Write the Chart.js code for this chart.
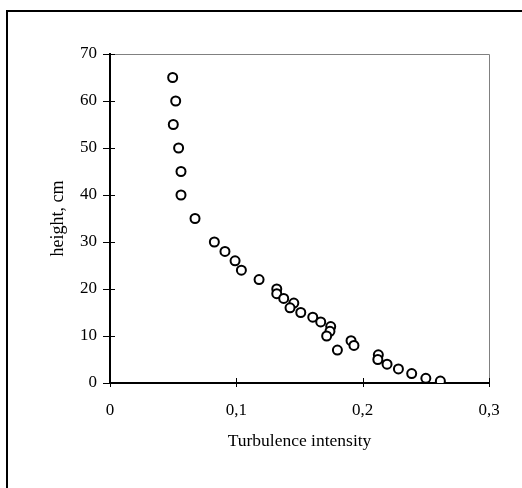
<!DOCTYPE html>
<html lang="en">
<head>
<meta charset="UTF-8">
<script src="https://cdn.jsdelivr.net/npm/chart.js"></script>
<style>
  html, body { margin: 0; padding: 0; background: #fff; overflow: hidden; }
  #frame { position: absolute; left: 6px; top: 10px; width: 700px; height: 700px;
           border-left: 2px solid #000; border-top: 2px solid #000; }
  #wrap { position: absolute; left: 0; top: 0; width: 522px; height: 488px; }
</style>
</head>
<body>
<div id="frame"></div>
<div id="wrap"><canvas id="chart" width="522" height="488"></canvas></div>
<script>
// turbulence intensity vs height
const intensity = [0.0496, 0.052, 0.0501, 0.0543, 0.0562, 0.0562, 0.0673, 0.0826, 0.091, 0.099,
                   0.104, 0.118, 0.132, 0.132, 0.1375, 0.1455, 0.1425, 0.151, 0.1605, 0.1668,
                   0.1747, 0.1741, 0.1715, 0.18, 0.1908, 0.1931, 0.2124, 0.212, 0.2193, 0.2283,
                   0.2388, 0.25, 0.2615];
const heights = [65, 60, 55, 50, 45, 40, 35, 30, 28, 26,
                 24, 22, 20, 19, 18, 17, 16, 15, 14, 13,
                 12, 11, 10, 7, 9, 8, 6, 5, 4, 3,
                 2, 1, 0.4];
const xTicks = [0, 0.1, 0.2, 0.3];
const yTicks = [0, 10, 20, 30, 40, 50, 60, 70];

const serif = "'Liberation Serif', 'Times New Roman', serif";

// gray top/right frame and tick marks crossing the axes
const framePlugin = {
  id: 'frame',
  afterDraw(chart) {
    const { ctx, chartArea: a, scales } = chart;
    ctx.save();
    ctx.strokeStyle = '#808080';
    ctx.lineWidth = 1;
    ctx.beginPath();
    ctx.moveTo(a.left, a.top + 0.5);
    ctx.lineTo(a.right + 0.5, a.top + 0.5);
    ctx.lineTo(a.right + 0.5, a.bottom);
    ctx.stroke();
    ctx.strokeStyle = '#000';
    ctx.beginPath();
    yTicks.forEach(v => {
      const y = Math.round(scales.y.getPixelForValue(v)) + 0.5;
      ctx.moveTo(a.left - 7, y);
      ctx.lineTo(a.left + 5, y);
    });
    xTicks.forEach(v => {
      const x = Math.round(scales.x.getPixelForValue(v)) + 0.5;
      ctx.moveTo(x, a.bottom - 5);
      ctx.lineTo(x, a.bottom + 4);
    });
    ctx.stroke();
    ctx.restore();
  }
};

new Chart(document.getElementById('chart'), {
  type: 'scatter',
  data: {
    datasets: [{
      data: intensity.map((x, i) => ({ x: x, y: heights[i] })),
      pointRadius: 4.5,
      pointBorderWidth: 2,
      pointBorderColor: '#000',
      pointBackgroundColor: '#fff'
    }]
  },
  options: {
    responsive: false,
    animation: false,
    layout: { padding: { left: 0, top: 54, right: 33, bottom: 0 } },
    plugins: { legend: { display: false }, tooltip: { enabled: false } },
    scales: {
      x: {
        type: 'linear', min: 0, max: 0.3,
        afterFit(s) { s.height = 105; },
        afterBuildTicks(s) { s.ticks = xTicks.map(v => ({ value: v })); },
        grid: { drawOnChartArea: false, drawTicks: false },
        border: { color: '#000', width: 2 },
        ticks: {
          padding: 17, color: '#000', font: { family: serif, size: 17 },
          callback: v => v === 0 ? '0' : v.toFixed(1).replace('.', ',')
        },
        title: {
          display: true, text: 'Turbulence intensity', color: '#000',
          font: { family: serif, size: 17.5 }, padding: { top: 0, bottom: 36 }
        }
      },
      y: {
        type: 'linear', min: 0, max: 70,
        afterFit(s) { s.width = 110; },
        afterBuildTicks(s) { s.ticks = yTicks.map(v => ({ value: v })); },
        grid: { drawOnChartArea: false, drawTicks: false },
        border: { color: '#000', width: 2 },
        ticks: { padding: 13, color: '#000', font: { family: serif, size: 17 } },
        title: {
          display: true, text: 'height, cm', color: '#000',
          font: { family: serif, size: 18 }, padding: { top: 47, bottom: 0 }
        }
      }
    }
  },
  plugins: [framePlugin]
});
</script>
</body>
</html>
